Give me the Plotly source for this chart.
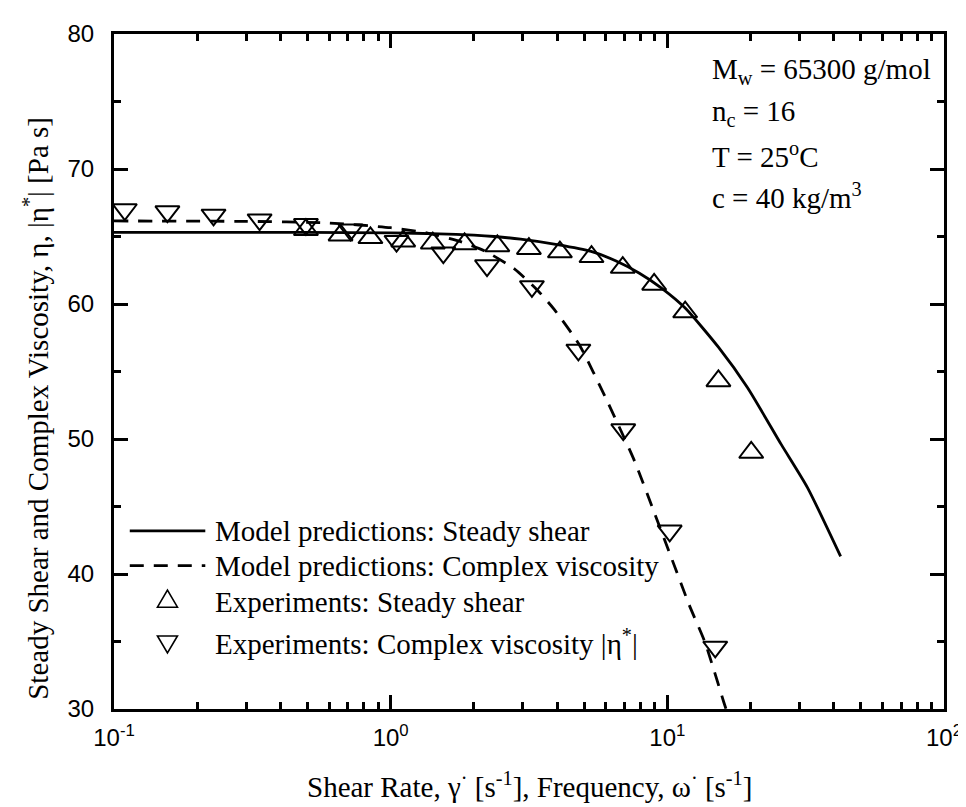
import plotly.graph_objects as go

# ---------------- data ----------------
steady_exp_x = [0.494, 0.659, 0.845, 1.11, 1.42, 1.85, 2.43, 3.16, 4.09, 5.32, 6.9, 8.96, 11.6, 15.3, 20.1]
steady_exp_y = [65.5, 65.1, 64.9, 64.65, 64.5, 64.45, 64.3, 64.1, 63.85, 63.5, 62.7, 61.45, 59.4, 54.3, 49.0]

complex_exp_x = [0.1094, 0.156, 0.229, 0.336, 0.494, 0.716, 1.05, 1.55, 2.23, 3.24, 4.77, 6.93, 10.2, 14.9]
complex_exp_y = [67.0, 66.85, 66.6, 66.25, 65.9, 65.5, 64.65, 63.8, 62.85, 61.3, 56.6, 50.7, 43.2, 34.6]

steady_model_x = [0.1, 0.3, 0.5, 1.0, 1.5, 2.0, 2.37, 2.95, 4.0, 5.3, 6.5, 7.9, 9.5, 11.6, 15.3, 19.5, 25.8, 32.1, 42.3]
steady_model_y = [65.3, 65.3, 65.3, 65.27, 65.2, 65.1, 65.0, 64.8, 64.4, 63.9, 63.2, 62.3, 61.2, 59.7, 56.8, 53.8, 49.6, 46.4, 41.3]

complex_model_x = [0.1, 0.3, 0.6, 1.0, 1.36, 1.8, 2.2, 2.8, 3.4, 3.9, 4.8, 6.0, 7.6, 8.8, 10.3, 12.0, 13.7, 16.0, 16.3]
complex_model_y = [66.15, 66.12, 66.0, 65.65, 65.25, 64.6, 63.9, 62.6, 61.0, 59.6, 57.0, 53.0, 48.4, 45.0, 41.3, 37.7, 34.9, 30.5, 30.0]

x_tick_vals = [0.1, 1, 10, 100]
x_tick_text = ["10<sup>-1</sup>", "10<sup>0</sup>", "10<sup>1</sup>", "10<sup>2</sup>"]
x_minor_vals = [m * d for d in (0.1, 1, 10) for m in range(2, 10)]
y_tick_vals = [30, 40, 50, 60, 70, 80]
y_minor_vals = [35, 45, 55, 65, 75]

legend_labels = [
    "Model predictions: Steady shear",
    "Model predictions: Complex viscosity",
    "Experiments: Steady shear",
    "Experiments: Complex viscosity |η<sup>*</sup>|",
]
info_lines = [
    "M<sub>w</sub> = 65300 g/mol",
    "n<sub>c</sub> = 16",
    "T = 25<sup>o</sup>C",
    "c = 40 kg/m<sup>3</sup>",
]

SERIF = "Liberation Serif, Times New Roman, serif"
SANS = "Liberation Sans, Arial, sans-serif"
TXT = 29

fig = go.Figure()
fig.add_trace(go.Scatter(x=steady_model_x, y=steady_model_y, mode="lines",
                         line=dict(color="black", width=2.8, shape="spline", smoothing=0.6),
                         showlegend=False))
fig.add_trace(go.Scatter(x=complex_model_x, y=complex_model_y, mode="lines",
                         line=dict(color="black", width=2.8, dash="14px,10px", shape="spline", smoothing=0.6),
                         showlegend=False))
fig.add_trace(go.Scatter(x=steady_exp_x, y=steady_exp_y, mode="markers",
                         marker=dict(symbol="triangle-up", size=21, color="rgba(0,0,0,0)",
                                     line=dict(color="black", width=2)),
                         showlegend=False))
fig.add_trace(go.Scatter(x=complex_exp_x, y=complex_exp_y, mode="markers",
                         marker=dict(symbol="triangle-down", size=21, color="rgba(0,0,0,0)",
                                     line=dict(color="black", width=2)),
                         showlegend=False))

# ---------------- manual legend ----------------
leg_y = [0.264, 0.2125, 0.159, 0.100]
fig.add_shape(type="line", xref="paper", yref="paper", x0=0.019, x1=0.110, y0=leg_y[0], y1=leg_y[0],
              line=dict(color="black", width=2.8))
fig.add_shape(type="line", xref="paper", yref="paper", x0=0.019, x1=0.110, y0=leg_y[1], y1=leg_y[1],
              line=dict(color="black", width=2.8, dash="14px,10px"))
fig.add_shape(type="path", xref="paper", yref="paper", xsizemode="pixel", ysizemode="pixel",
              xanchor=0.0644, yanchor=leg_y[2], path="M-10,-5.5 L10,-5.5 L0,11.5 Z",
              line=dict(color="black", width=1.6))
fig.add_shape(type="path", xref="paper", yref="paper", xsizemode="pixel", ysizemode="pixel",
              xanchor=0.0644, yanchor=leg_y[3], path="M-10,5.5 L10,5.5 L0,-11.5 Z",
              line=dict(color="black", width=1.6))
for lab, yy in zip(legend_labels, leg_y):
    fig.add_annotation(text=lab, xref="paper", yref="paper", x=0.119, y=yy,
                       xanchor="left", yanchor="middle", showarrow=False,
                       font=dict(family=SERIF, size=TXT, color="black"))

# ---------------- info text ----------------
info_y = [0.945, 0.883, 0.821, 0.760]
for txt, yy in zip(info_lines, info_y):
    fig.add_annotation(text=txt, xref="paper", yref="paper", x=0.7175, y=yy,
                       xanchor="left", yanchor="middle", showarrow=False,
                       font=dict(family=SERIF, size=TXT, color="black"))

# ---------------- axis titles ----------------
fig.add_annotation(text="Shear Rate, γ<sup>·</sup> [s<sup>-1</sup>], Frequency, ω<sup>·</sup> [s<sup>-1</sup>]",
                   xref="paper", yref="paper", x=0.5, y=-0.113, xanchor="center", yanchor="middle",
                   showarrow=False, font=dict(family=SERIF, size=TXT, color="black"))
fig.add_annotation(text="Steady Shear and Complex Viscosity, η, |η<sup>*</sup>| [Pa s]",
                   xref="paper", yref="paper", x=-0.095, y=0.445, xanchor="center", yanchor="middle",
                   textangle=-90, showarrow=False, font=dict(family=SERIF, size=TXT, color="black"))

axis_common = dict(showline=True, linecolor="black", linewidth=3, mirror="allticks",
                   ticks="inside", ticklen=14, tickwidth=3, tickcolor="black",
                   showgrid=False, zeroline=False,
                   tickfont=dict(family=SANS, size=24, color="black"))

fig.update_xaxes(type="log", range=[-1, 2], tickmode="array", tickvals=x_tick_vals, ticktext=x_tick_text,
                 minor=dict(tickmode="array", tickvals=x_minor_vals, ticks="inside", ticklen=7,
                            tickwidth=3, tickcolor="black", showgrid=False),
                 ticklabelstandoff=5, **axis_common)
fig.update_yaxes(range=[30, 80], tickmode="array", tickvals=y_tick_vals,
                 minor=dict(tickmode="array", tickvals=y_minor_vals, ticks="inside", ticklen=7,
                            tickwidth=3, tickcolor="black", showgrid=False),
                 ticklabelstandoff=12, **axis_common)

fig.update_layout(width=966, height=807, margin=dict(l=106, r=21, t=26, b=106),
                  paper_bgcolor="white", plot_bgcolor="white", showlegend=False)

fig.write_html("out.html")
